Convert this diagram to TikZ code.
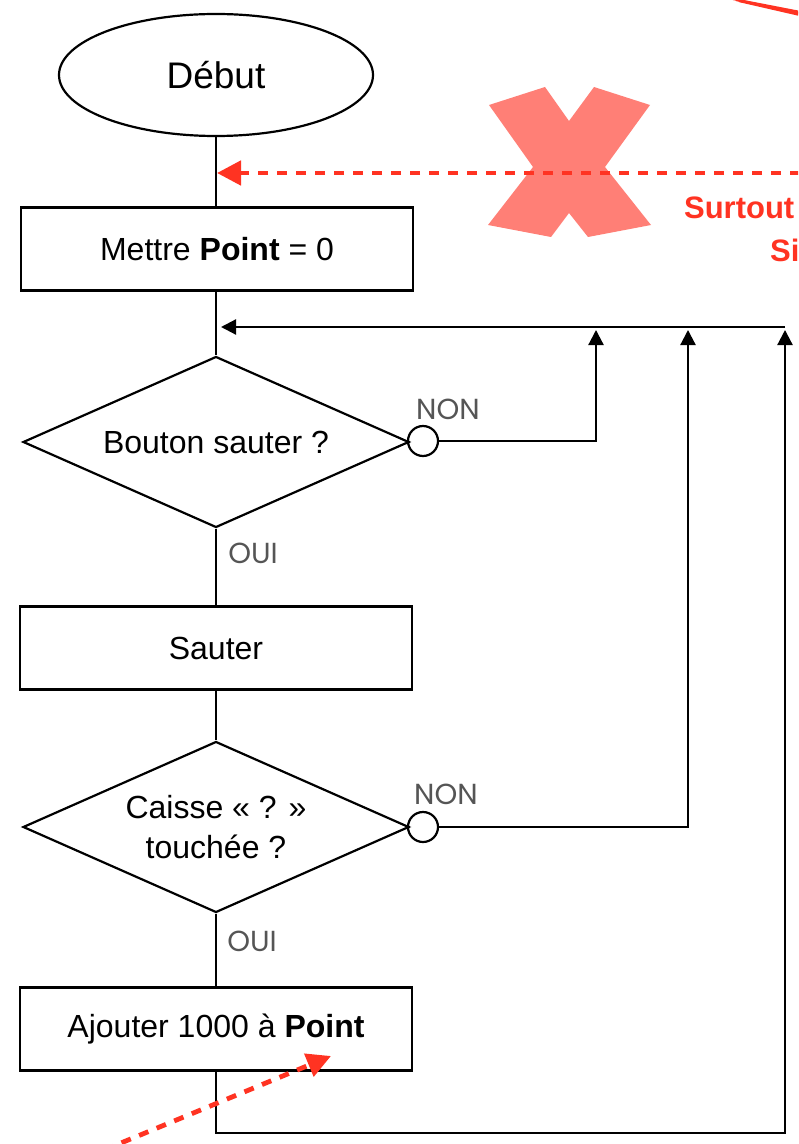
\documentclass[tikz,border=0pt]{standalone}
\usepackage{fontspec}
\setmainfont{Liberation Sans}
\newfontfamily\etiqfont{Poppins}
\usetikzlibrary{shapes.geometric,arrows.meta,positioning}
\definecolor{alerte}{HTML}{FF3322}
\definecolor{croix}{HTML}{FF7F76}
\definecolor{gristxt}{HTML}{555555}

\begin{document}
\begin{tikzpicture}[x=0.5pt,y=-0.5pt,line width=1.1pt]
        \tikzstyle{every node}=[font=\fontsize{16}{20}\selectfont]
        \tikzstyle{debut}=[draw,ellipse,minimum width=157pt,minimum height=61pt,font=\fontsize{18.5}{20}\selectfont]
        \tikzstyle{action}=[draw,rectangle,minimum width=196pt,minimum height=41.5pt]
        \tikzstyle{test}=[draw,diamond,aspect=2.26,inner sep=0pt,minimum width=193pt,minimum height=85.5pt,align=center]
        \tikzstyle{rond}=[draw,circle,inner sep=0pt,minimum size=15pt]
        \tikzstyle{etiq}=[font=\etiqfont\fontsize{14.5}{16}\selectfont,text=gristxt,inner sep=0pt]
        \tikzstyle{fleche}=[-{Triangle[length=7.5pt,width=7.5pt]}]
        \tikzstyle{rouge}=[alerte,line width=2.4pt,dash pattern=on 5pt off 4.5pt,-{Triangle[length=12pt,width=12pt]}]
        \tikzstyle{avis}=[text=alerte,font=\bfseries\fontsize{15.5}{18}\selectfont,anchor=base west,inner sep=0pt]

        \useasboundingbox (0,0) rectangle (798,1144);
        \clip (0,0) rectangle (798,1144);

        % les blocs
        \node[debut] (debut) at (216,75) {Début};
        \node[action] (init) at (217,249) {Mettre \textbf{Point} = 0};
        \node[test] (bouton) at (216,442) {Bouton sauter ?};
        \node[action] (sauter) at (216,648) {Sauter};
        \node[test] (caisse) at (216,827) {Caisse « ? »\\touchée ?};
        \node[action] (ajout) at (216,1029) {Ajouter 1000 à \textbf{Point}};

        \node[rond] (rond1) at (423,441) {};
        \node[rond] (rond2) at (423,827) {};
        \node[etiq] (non1) at (448,409) {NON};
        \node[etiq] (non2) at (446,794) {NON};
        \node[etiq] (oui1) at (253,553) {OUI};
        \node[etiq] (oui2) at (252,941) {OUI};

        \coordinate (entree) at (221,327);
        \coordinate (coin) at (785,327);
        \coordinate (retour1) at (596,330);
        \coordinate (retour2) at (688,330);
        \coordinate (retour3) at (785,330);
        \coordinate (bas) at (785,1133);

        % les liaisons
        \draw (debut) -- (debut |- init.north);
        \draw (bouton |- init.south) -- (bouton);
        \draw (bouton) -- (sauter);
        \draw (sauter) -- (caisse);
        \draw (caisse) -- (ajout);
        \draw (bouton.east) -- (rond1);
        \draw (caisse.east) -- (rond2);
        \draw[fleche] (rond1) -| (retour1);
        \draw[fleche] (rond2) -| (retour2);
        \draw[fleche] (ajout) |- (bas) -- (retour3);
        \draw[fleche] (coin) -- (entree);

        % la croix et les annotations
        \fill[croix] (489,105) -- (545,87) -- (569,121) -- (594,87) -- (650,105) -- (605,167)
            -- (651,225) -- (588,237) -- (569,213) -- (551,237) -- (488,225) -- (533,167) -- cycle;
        \coordinate (depart) at (800,173);
        \coordinate (pointe) at (217,173);
        \draw[rouge] (depart) -- (pointe);
        \coordinate (depart2) at (104,1150);
        \coordinate (pointe2) at (331,1056);
        \draw[rouge] (depart2) -- (pointe2);
        \node[avis] (surtout) at (683,219) {Surtout};
        \node[avis] (si) at (769,262) {Si};
        \foreach \d in {0,3,6}
            \draw[alerte,line width=1.1pt] (733+\d,-1+\d/3) -- (800,12+\d/2);
    \end{tikzpicture}
\end{document}
